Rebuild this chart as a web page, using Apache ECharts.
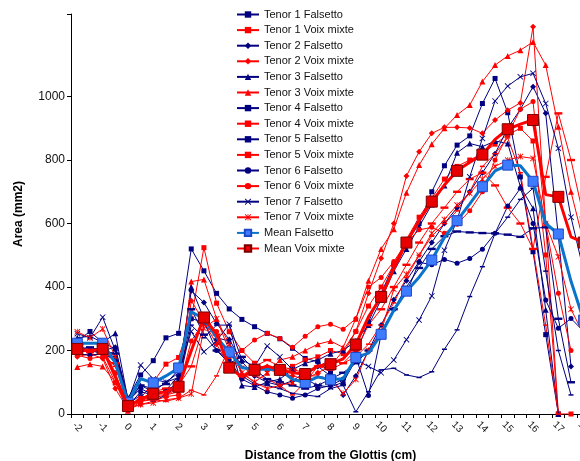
<!DOCTYPE html>
<html><head><meta charset="utf-8">
<script src="https://cdn.jsdelivr.net/npm/echarts@6/dist/echarts.min.js"></script>
<style>html,body{margin:0;padding:0;background:#fff}#c{width:580px;height:461px}</style>
</head><body><div id="c"></div>
<script>
const categories = ['-2','-1.5','-1','-0.5','0','0.5','1','1.5','2','2.5','3','3.5','4','4.5','5','5.5','6','6.5','7','7.5','8','8.5','9','9.5','10','10.5','11','11.5','12','12.5','13','13.5','14','14.5','15','15.5','16','16.5','17','17.5','18'];
const yTicks = [0,200,400,600,800,1000,1200];

const t1F = [230,260,225,205,50,123,168,240,254, 520,451,380,331,298,275,254,237,207,175, 165,130,95,190,290,380,470,540,600,700, 782,847,876,978,1057,949,747,511,250,0,null,null];
const t1V = [205,200,210,130,20,50,100,157,178, 300,524,349,259,200,160,140,130,150,170, 180,200,190,260,340,400,470,550,620,680, 740,780,800,820,850,880,900,860,501,0,0,null];
const t2F = [200,195,200,210,40,80,60,75,120, 388,351,285,235,165,120,100,90,105,130, 150,120,60,120,200,280,360,420,480,540, 600,650,700,760,820,900,960,1031,947,560,150,null];
const t2V = [180,190,175,80,15,30,40,55,60, 357,290,220,150,110,130,150,130,120,110, 130,150,200,260,380,491,600,750,826,884, 903,903,901,884,926,957,980,1220,600,0,null,null];
const t3F = [240,245,225,254,45,90,70,100,115, 400,300,240,230,90,85,100,110,140,160, 170,190,200,230,280,360,450,520,590,660, 720,823,852,842,860,852,716,648,328,0,null,null];
const t3V = [148,157,150,100,10,40,50,60,70, 417,424,300,200,130,100,130,170,180,200, 220,230,210,300,420,520,582,697,784,850, 900,942,973,1047,1099,1128,1146,1172,1099,905,700,540];
const t4F = [215,200,190,180,30,60,40,60,90, 280,240,280,280,120,95,90,80,65,60, 55,80,91,7,70,139,144,123,115,133, 204,265,370,464,569,620,676,711,450,200,60,null];
const t4V = [190,185,190,150,30,40,45,40,50, 75,60,120,210,150,120,110,90,60,100, 150,170,160,180,220,280,350,430,500,560, 600,640,700,780,820,870,760,520,280,0,null,null];
const t5F = [205,210,200,190,35,90,80,95,140, 330,250,200,160,180,140,110,100,90,80, 90,110,130,160,200,260,330,400,460,520, 560,575,572,570,569,565,558,585,588,300,100,null];
const t5V = [200,195,205,160,25,45,70,80,90, 150,280,250,150,120,150,170,150,140,130, 150,140,160,200,280,330,400,470,540,600, 650,700,740,760,720,650,600,520,747,947,800,620];
const t6F = [190,185,190,170,25,70,60,70,100, 300,290,200,170,110,90,70,60,50,60, 80,90,110,180,58,250,330,381,478,470, 487,475,490,519,569,655,711,600,359,270,301,260];
const t6V = [185,175,180,100,20,40,60,60,80, 230,290,260,180,200,233,254,238,210,245, 275,283,267,300,400,430,480,540,580,588, 569,598,640,700,800,880,960,984,600,380,200,null];
const t7F = [253,240,305,200,40,154,110,100,130, 260,196,230,283,170,150,214,180,140,110, 90,85,100,170,150,130,170,234,296,372, 516,610,747,868,986,1033,1062,1073,978,837,620,450];
const t7V = [259,240,268,180,20,30,35,45,50, 63,270,300,220,130,100,80,90,100,120, 120,110,65,109,200,260,393,440,500,569, 613,658,695,740,780,800,811,805,600,495,330,250];
const meanF = [223,223,223,162,37,111,98,120,145, 322,300,241,195,146,141,141,139,109,99, 117,108,111,178,192,251,327,387,431,485, 556,609,662,716,766,784,782,733,600,567,418,296];
const meanV = [205,199,205,117,25,46,64,70,86, 199,304,252,146,117,139,151,139,130,126, 151,157,174,219,306,369,457,540,609,669, 721,766,793,817,865,897,913,926,691,684,558,540];

const NAVY = '#000080', RED = '#FF0000';
const X_PATH = 'path://M0,1 L1,0 L5,4 L9,0 L10,1 L6,5 L10,9 L9,10 L5,6 L1,10 L0,9 L4,5 Z';
const AST_PATH = 'path://M0,1 L1,0 L5,4 L9,0 L10,1 L6,5 L10,9 L9,10 L5,6 L1,10 L0,9 L4,5 Z M4.4,0 L5.6,0 L5.6,10 L4.4,10 Z';
const DASH_PATH = 'path://M0,0 L10,0 L10,3 L0,3 Z';

function ind(name, data, color, symbol, size) {
  return {
    name, type: 'line', data, symbol, symbolSize: size, showSymbol: true, symbolKeepAspect: true,
    lineStyle: { color, width: 1 }, itemStyle: { color, borderWidth: 0 },
    emphasis: { disabled: true }, animation: false, z: 2
  };
}

const series = [
  ind('Tenor 1 Falsetto', t1F, NAVY, 'rect', 5),
  ind('Tenor 1 Voix mixte', t1V, RED, 'rect', 5),
  ind('Tenor 2 Falsetto', t2F, NAVY, 'diamond', 6),
  ind('Tenor 2 Voix mixte', t2V, RED, 'diamond', 6),
  ind('Tenor 3 Falsetto', t3F, NAVY, 'triangle', 6),
  ind('Tenor 3 Voix mixte', t3V, RED, 'triangle', 6),
  ind('Tenor 4 Falsetto', t4F, NAVY, DASH_PATH, 5),
  ind('Tenor 4 Voix mixte', t4V, RED, DASH_PATH, 5),
  ind('Tenor 5 Falsetto', t5F, NAVY, DASH_PATH, 8),
  ind('Tenor 5 Voix mixte', t5V, RED, DASH_PATH, 8),
  ind('Tenor 6 Falsetto', t6F, NAVY, 'circle', 5),
  ind('Tenor 6 Voix mixte', t6V, RED, 'circle', 5),
  ind('Tenor 7 Falsetto', t7F, NAVY, X_PATH, 6),
  ind('Tenor 7 Voix mixte', t7V, RED, AST_PATH, 6),
  {
    name: 'Mean Falsetto', type: 'line', data: meanF, symbol: 'rect', symbolSize: 10,
    lineStyle: { color: '#0A74CC', width: 3 },
    itemStyle: { color: '#3D7BFF', borderColor: '#1F48C8', borderWidth: 1 },
    emphasis: { disabled: true }, animation: false, z: 5
  },
  {
    name: 'Mean Voix mixte', type: 'line', data: meanV, symbol: 'rect', symbolSize: 11,
    lineStyle: { color: '#FF0000', width: 3 },
    itemStyle: { color: '#E80000', borderColor: '#7A0000', borderWidth: 1 },
    emphasis: { disabled: true }, animation: false, z: 6
  }
];

const chart = echarts.init(document.getElementById('c'), null, { renderer: 'canvas' });
chart.setOption({
  backgroundColor: '#fff',
  animation: false,
  textStyle: { fontFamily: 'Liberation Sans, Arial, sans-serif' },
  grid: { left: 71, top: 14, width: 519, bottom: 47, containLabel: false, outerBoundsMode: 'none' },
  legend: {
    orient: 'vertical', left: 231, top: 4,
    itemWidth: 22, itemHeight: 8, itemGap: 4.6,
    textStyle: { fontSize: 11, color: '#111', fontFamily: 'Liberation Sans, Arial, sans-serif' },
    data: series.map(s => s.name)
  },
  xAxis: {
    type: 'category', data: categories, boundaryGap: true,
    name: 'Distance from the Glottis (cm)', nameLocation: 'middle', nameGap: 36,
    nameTextStyle: { fontSize: 12, fontWeight: 'bold', color: '#000' },
    axisLine: { lineStyle: { color: '#000', width: 1 } },
    axisTick: { show: true, interval: 0, length: 4, lineStyle: { color: '#000' } },
    axisLabel: { interval: 1, rotate: -45, align: 'center', verticalAlign: 'middle', margin: 13, fontSize: 10, color: '#111' },
    splitLine: { show: false }
  },
  yAxis: {
    type: 'value', min: 0, max: 1260, interval: 200,
    name: 'Area (mm2)', nameLocation: 'middle', nameGap: 46,
    nameTextStyle: { fontSize: 12, fontWeight: 'bold', color: '#000' },
    axisLine: { show: true, lineStyle: { color: '#000', width: 1 } },
    axisTick: { show: true, length: 4, lineStyle: { color: '#000' } },
    axisLabel: { fontSize: 12, color: '#111', margin: 6, showMaxLabel: false, customValues: yTicks, formatter: v => String(v) },
    splitLine: { show: false }
  },
  series
});
</script>
</body></html>
